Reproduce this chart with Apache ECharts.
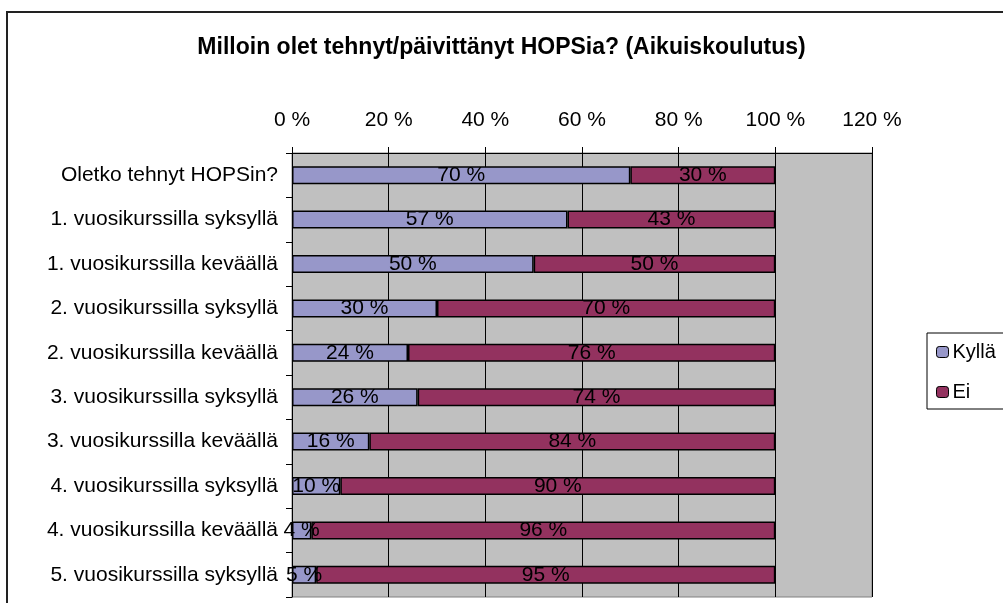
<!DOCTYPE html>
<html>
<head>
<meta charset="utf-8">
<title>HOPS</title>
<script src="https://cdn.jsdelivr.net/npm/echarts@6/dist/echarts.min.js"></script>
<style>
html, body {margin: 0; padding: 0; background: #fff;}
#main {width: 1003px; height: 603px;}
</style>
</head>
<body>
<div id="main"></div>
<script>
var categories = [
    'Oletko tehnyt HOPSin?',
    '1. vuosikurssilla syksyllä',
    '1. vuosikurssilla keväällä',
    '2. vuosikurssilla syksyllä',
    '2. vuosikurssilla keväällä',
    '3. vuosikurssilla syksyllä',
    '3. vuosikurssilla keväällä',
    '4. vuosikurssilla syksyllä',
    '4. vuosikurssilla keväällä',
    '5. vuosikurssilla syksyllä'
];
var kylla = [70, 57, 50, 30, 24, 26, 16, 10, 4, 5];
var ei = [30, 43, 50, 70, 76, 74, 84, 90, 96, 95];

var myChart = echarts.init(document.getElementById('main'));

var fontName = 'Arial, Liberation Sans';

var barLabel = {
    show: true,
    position: 'inside',
    formatter: '{c} %',
    color: '#000',
    fontFamily: fontName,
    fontSize: 21
};

var option = {
    animation: false,
    title: {
        text: 'Milloin olet tehnyt/päivittänyt HOPSia? (Aikuiskoulutus)',
        left: 'center',
        top: 31,
        textStyle: {fontFamily: fontName, fontSize: 23, fontWeight: 'bold', color: '#000'}
    },
    // ulkokehys
    graphic: [{
        type: 'rect',
        shape: {x: 7, y: 12, width: 1010, height: 620},
        style: {fill: 'none', stroke: '#222', lineWidth: 2},
        silent: true
    }],
    legend: {
        orient: 'vertical',
        left: 927,
        top: 333,
        data: ['Kyllä', 'Ei'],
        itemWidth: 12,
        itemHeight: 11,
        itemGap: 20,
        padding: [9, 40, 7, 9],
        borderColor: '#000',
        borderWidth: 1,
        textStyle: {fontFamily: fontName, fontSize: 20, color: '#000', padding: [0, 0, 0, -1]},
        itemStyle: {borderColor: '#000', borderWidth: 1}
    },
    grid: {
        left: 292,
        right: 131,
        top: 153,
        bottom: 6,
        show: true,
        backgroundColor: '#c0c0c0',
        borderColor: '#808080',
        borderWidth: 1
    },
    xAxis: {
        type: 'value',
        position: 'top',
        min: 0,
        max: 120,
        interval: 20,
        axisLine: {show: true, lineStyle: {color: '#000'}},
        axisTick: {show: true, length: 6, lineStyle: {color: '#000'}},
        axisLabel: {
            formatter: '{value} %',
            margin: 22,
            fontFamily: fontName,
            fontSize: 21,
            color: '#000'
        },
        splitLine: {show: true, lineStyle: {color: '#000', width: 1}}
    },
    yAxis: {
        type: 'category',
        inverse: true,
        data: categories,
        axisLine: {show: true, lineStyle: {color: '#000'}},
        axisTick: {show: true, length: 6, lineStyle: {color: '#000'}},
        axisLabel: {
            margin: 14,
            fontFamily: fontName,
            fontSize: 21,
            color: '#000'
        }
    },
    series: [
        {
            name: 'Kyllä',
            type: 'bar',
            stack: 'yht',
            barWidth: 18,
            data: kylla,
            itemStyle: {color: '#9797c9', borderColor: '#000', borderWidth: 1.5},
            label: barLabel
        },
        {
            name: 'Ei',
            type: 'bar',
            stack: 'yht',
            barWidth: 18,
            data: ei,
            itemStyle: {color: '#93325f', borderColor: '#000', borderWidth: 1.5},
            label: barLabel
        }
    ]
};

myChart.setOption(option);
</script>
</body>
</html>
